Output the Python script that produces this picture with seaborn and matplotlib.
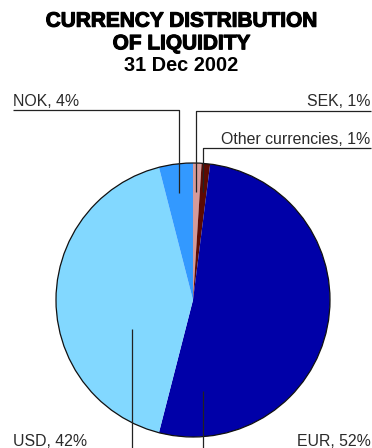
import numpy as np
import matplotlib
matplotlib.use("Agg")
import matplotlib.pyplot as plt
import matplotlib.patheffects as pe
from matplotlib.patches import Circle
import seaborn as sns

# Currency distribution of liquidity, 31 Dec 2002 (clockwise from 12 o'clock)
currencies = ["SEK", "Other currencies", "EUR", "USD", "NOK"]
shares = [1, 1, 52, 42, 4]
slice_colors = ["#d49a9a", "#5c0a02", "#0000a8", "#82d8ff", "#3399ff"]

title_lines = ["CURRENCY DISTRIBUTION", "OF LIQUIDITY", "31 Dec 2002"]

sns.set_style("white")
plt.rcParams["font.family"] = ["Liberation Sans", "DejaVu Sans"]

W, H = 372, 448
fig = plt.figure(figsize=(W / 100, H / 100), dpi=100)
ax = fig.add_axes([0, 0, 1, 1])

def up(y):
    """Convert a top-down pixel row to the axes' upward y."""
    return H - y

cx, cy, R = 193, up(300), 137
palette = sns.color_palette(slice_colors)

wedges, _ = ax.pie(shares, colors=palette, startangle=90, counterclock=False,
                   center=(cx, cy), radius=R,
                   wedgeprops=dict(linewidth=0, antialiased=True))
ax.add_patch(Circle((cx, cy), R, fill=False, edgecolor="#111111", lw=0.9))

ax.set_xlim(0, W)
ax.set_ylim(0, H)
ax.set_aspect("equal")
ax.axis("off")

# Title
heavy = [pe.withStroke(linewidth=0.8, foreground="black")]
ax.text(W / 2 - 4.5, up(26.7), title_lines[0], ha="center", va="baseline",
        fontsize=15.0, fontweight="bold", color="black", path_effects=heavy)
ax.text(W / 2 - 4.5, up(49.3), title_lines[1], ha="center", va="baseline",
        fontsize=15.0, fontweight="bold", color="black", path_effects=heavy)
ax.text(W / 2 - 4.5, up(71), title_lines[2], ha="center", va="baseline",
        fontsize=14.4, fontweight="bold", color="black")

# Cumulative angles (clockwise from top) for anchoring the leaders
frac = np.array(shares) / np.sum(shares)
ends = np.cumsum(frac) * 360
starts = ends - frac * 360
mids = (starts + ends) / 2

def polar(angle_deg, rfrac):
    a = np.deg2rad(angle_deg)
    return cx + R * rfrac * np.sin(a), cy + R * rfrac * np.cos(a)

lab_kw = dict(fontsize=11.4, color="#2a2a2a", va="baseline")
line_kw = dict(color="#222222", lw=0.9, solid_capstyle="butt")

def label(i):
    return f"{currencies[i]}, {shares[i]}%"

# NOK: top left
ax_, ay_ = polar(mids[4], 0.79)
ax.plot([12.7, ax_, ax_], [up(110.3), up(110.3), ay_], **line_kw)
ax.text(12.7, up(105.5), label(4), ha="left", **lab_kw)

# SEK: top right
ax_, ay_ = polar(mids[0], 0.79)
ax.plot([371, ax_, ax_], [up(110.7), up(110.7), ay_], **line_kw)
ax.text(370.7, up(105.5), label(0), ha="right", **lab_kw)

# Other currencies: below SEK
ax_, ay_ = polar(mids[1], 0.79)
ax.plot([371, ax_, ax_], [up(147.7), up(147.7), ay_], **line_kw)
ax.text(370.7, up(143.5), label(1), ha="right", **lab_kw)

# USD: bottom left, leader runs off the bottom edge
ux, uy = 132, up(329)
ax.plot([ux, ux], [uy, -5], **line_kw)
ax.text(12.7, up(446), label(3), ha="left", **lab_kw)

# EUR: bottom right
ex, ey = 203, up(391)
ax.plot([ex, ex], [ey, -5], **line_kw)
ax.text(370.7, up(446), label(2), ha="right", **lab_kw)

fig.savefig("out.png", dpi=100, facecolor="white")
